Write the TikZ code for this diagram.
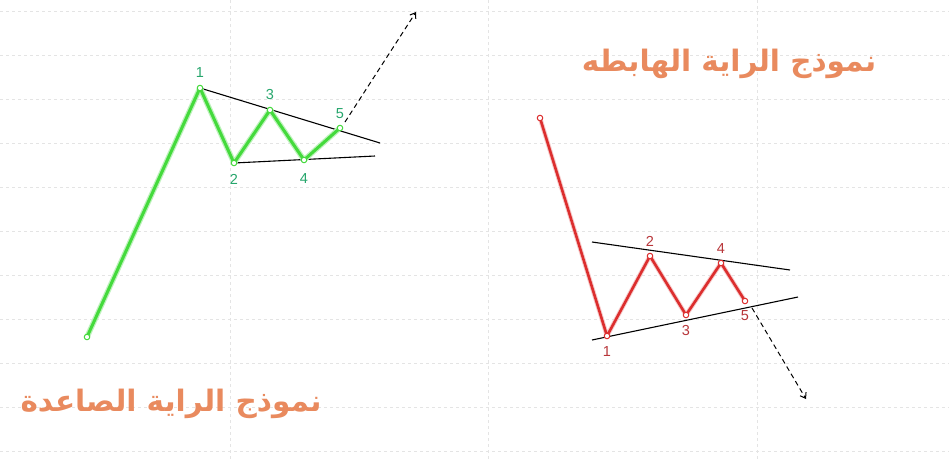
\documentclass[tikz,border=0pt]{standalone}
\usepackage{fontspec}
\usepackage{tikz}
\usetikzlibrary{arrows.meta,positioning}
\TeXXeTstate=1
\setsansfont{Liberation Sans}
\newfontfamily\arabicfont[Script=Arabic]{DejaVu Sans}
\definecolor{bullgreen}{HTML}{44DA3C}
\definecolor{bulltext}{HTML}{26A66C}
\definecolor{bearred}{HTML}{DC2E2E}
\definecolor{beartext}{HTML}{B8363A}
\definecolor{titleorange}{HTML}{E98A5E}
\definecolor{gridgray}{HTML}{E4E4E4}

\begin{document}
\begin{tikzpicture}[x=1pt,y=-1pt,font=\sffamily\fontsize{14.5}{14.5}\selectfont,
  gridline/.style={gridgray,dashed,line width=0.6pt},
  trendline/.style={black,line width=1.1pt},
  bullline/.style={bullgreen,line width=3pt,line join=round},
  bearline/.style={bearred,line width=2.6pt,line join=round},
  vertex/.style={circle,draw=#1,fill=white,line width=1pt,inner sep=0pt,minimum size=5.5pt},
  bulltag/.style={text=bulltext,inner sep=1pt},
  beartag/.style={text=beartext,inner sep=1pt},
  breakout/.style={black,dashed,dash pattern=on 5pt off 3.5pt,line width=1pt,-{Straight Barb[length=5pt,width=7pt]}},
  title/.style={text=titleorange,font=\arabicfont\bfseries\fontsize{29.5}{32}\selectfont}]
\useasboundingbox[fill=white] (0,0) rectangle (949,461);
% background grid
\foreach \gy in {11,55,...,451} \draw[gridline] (0,\gy) -- (949,\gy);
\foreach \gx in {230,488,757} \draw[gridline] (\gx,0) -- (\gx,461);
% bull flag
\coordinate (g0) at (87,337);
\coordinate (g1) at (200,88);
\coordinate (g2) at (234,163);
\coordinate (g3) at (270,110);
\coordinate (g4) at (304,160);
\coordinate (g5) at (340,128);
\coordinate (gtop) at (380,143);
\coordinate (gbot) at (375,156);
\coordinate (gout) at (416,12);
\coordinate (gstart) at (345,122);
\draw[trendline] (g1) -- (gtop);
\draw[trendline] (g2) -- (gbot);
\draw[bullgreen!35,line width=5.5pt,line join=round] (g0) -- (g1) -- (g2) -- (g3) -- (g4) -- (g5);
\draw[bullline] (g0) -- (g1) -- (g2) -- (g3) -- (g4) -- (g5);
\draw[breakout] (gstart) -- (gout);
\foreach \p in {g0,g1,g2,g3,g4,g5} \node[vertex=bullgreen] at (\p) {};
\node[bulltag,above=9pt of g1] {1};
\node[bulltag,above=9pt of g3] {3};
\node[bulltag,above=8pt of g5] {5};
\node[bulltag,below=10pt of g2] {2};
\node[bulltag,below=12pt of g4] {4};
% bear flag
\coordinate (r0) at (540,118);
\coordinate (r1) at (607,336);
\coordinate (r2) at (650,256);
\coordinate (r3) at (686,315);
\coordinate (r4) at (721,263);
\coordinate (r5) at (745,301);
\coordinate (rtopa) at (592,242);
\coordinate (rtopb) at (790,270);
\coordinate (rbota) at (592,340);
\coordinate (rbotb) at (798,297);
\coordinate (rstart) at (752,308);
\coordinate (rout) at (806,399);
\draw[trendline] (rtopa) -- (rtopb);
\draw[trendline] (rbota) -- (rbotb);
\draw[bearred!25,line width=4.5pt,line join=round] (r0) -- (r1) -- (r2) -- (r3) -- (r4) -- (r5);
\draw[bearline] (r0) -- (r1) -- (r2) -- (r3) -- (r4) -- (r5);
\draw[breakout] (rstart) -- (rout);
\foreach \p in {r0,r1,r2,r3,r4,r5} \node[vertex=bearred] at (\p) {};
\node[beartag,above=8pt of r2] {2};
\node[beartag,above=8pt of r4] {4};
\node[beartag,below=9pt of r1] {1};
\node[beartag,below=9pt of r3] {3};
\node[beartag,below=8pt of r5] {5};
% titles
\node[title] (beartitle) at (729,64) {\beginR نموذج الراية الهابطه\endR};
\node[title] (bulltitle) at (171,404) {\beginR نموذج الراية الصاعدة\endR};
\end{tikzpicture}
\end{document}
